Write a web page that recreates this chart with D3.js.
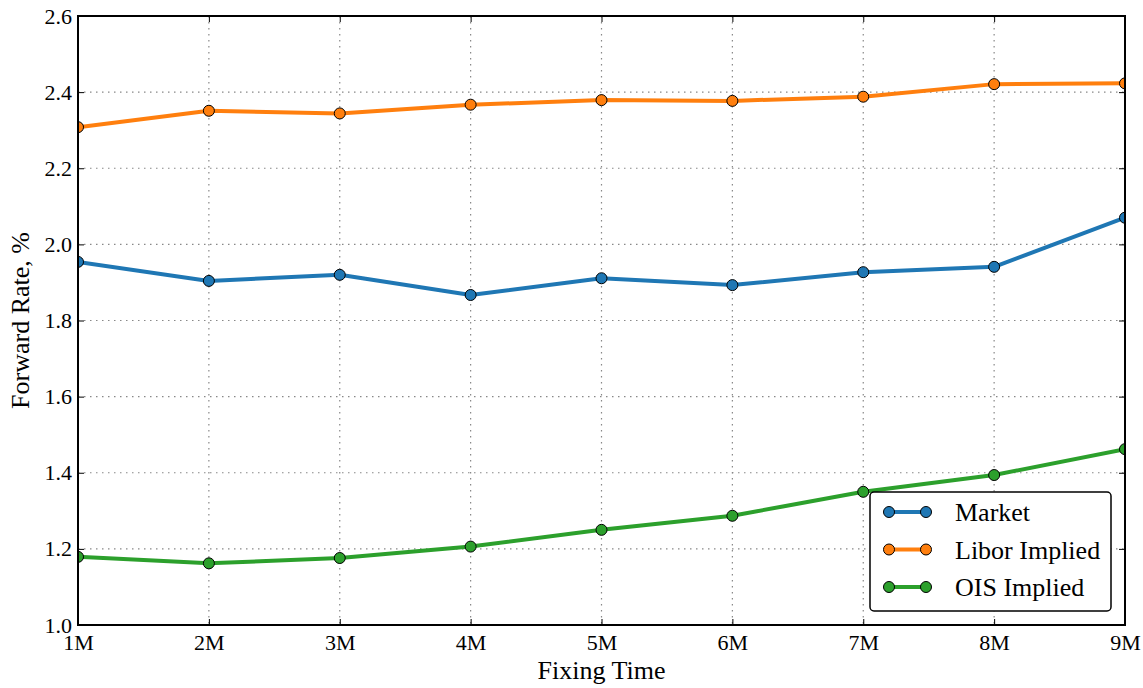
<!DOCTYPE html>
<html>
<head>
<meta charset="utf-8">
<script src="https://cdn.jsdelivr.net/npm/d3@7"></script>
<style>
body { margin: 0; background: #fff; }
svg { font-family: "Liberation Serif", "DejaVu Serif", serif; }
</style>
</head>
<body>
<div id="chart"></div>
<script>
const FRAME_WIDTH = 1143;
const FRAME_HEIGHT = 688;
const MARGINS = {left: 78, right: 18, top: 16, bottom: 63};

const VIS_WIDTH = FRAME_WIDTH - MARGINS.left - MARGINS.right;
const VIS_HEIGHT = FRAME_HEIGHT - MARGINS.top - MARGINS.bottom;

//data
const CATEGORIES = ["1M", "2M", "3M", "4M", "5M", "6M", "7M", "8M", "9M"];
const MARKET = [1.954, 1.904, 1.920, 1.867, 1.911, 1.893, 1.927, 1.941, 2.070];
const LIBOR = [2.308, 2.351, 2.344, 2.367, 2.379, 2.377, 2.388, 2.421, 2.423];
const OIS = [1.179, 1.162, 1.176, 1.206, 1.250, 1.287, 1.350, 1.394, 1.462];
const Y_TICKS = [1.0, 1.2, 1.4, 1.6, 1.8, 2.0, 2.2, 2.4, 2.6];

const SERIES = [
  {name: "Market", values: MARKET, color: "#1f77b4"},
  {name: "Libor Implied", values: LIBOR, color: "#ff7f0e"},
  {name: "OIS Implied", values: OIS, color: "#2ca02c"}
];

const FRAME = d3.select("#chart")
  .append("svg")
    .attr("width", FRAME_WIDTH)
    .attr("height", FRAME_HEIGHT);

const X_SCALE = d3.scalePoint()
  .domain(CATEGORIES)
  .range([0, VIS_WIDTH]);

const Y_SCALE = d3.scaleLinear()
  .domain([1.0, 2.6])
  .range([VIS_HEIGHT, 0]);

const G = FRAME.append("g")
  .attr("transform", "translate(" + MARGINS.left + "," + MARGINS.top + ")");

//clip so the end markers are cut at the frame
G.append("clipPath").attr("id", "clip")
  .append("rect").attr("width", VIS_WIDTH).attr("height", VIS_HEIGHT);

//dotted grid
G.append("g").selectAll("line")
  .data(CATEGORIES.slice(1, -1))
  .enter().append("line")
    .attr("x1", d => X_SCALE(d)).attr("x2", d => X_SCALE(d))
    .attr("y1", 0).attr("y2", VIS_HEIGHT)
    .attr("stroke", "#888").attr("stroke-width", 1.2)
    .attr("stroke-dasharray", "1.5,4.5");

G.append("g").selectAll("line")
  .data(Y_TICKS.slice(1, -1))
  .enter().append("line")
    .attr("x1", 0).attr("x2", VIS_WIDTH)
    .attr("y1", d => Y_SCALE(d)).attr("y2", d => Y_SCALE(d))
    .attr("stroke", "#888").attr("stroke-width", 1.2)
    .attr("stroke-dasharray", "1.5,4.5");

//lines and markers
const PLOT = G.append("g").attr("clip-path", "url(#clip)");
const LINE = d3.line()
  .x((d, i) => X_SCALE(CATEGORIES[i]))
  .y(d => Y_SCALE(d));

SERIES.forEach(s => {
  PLOT.append("path")
    .attr("d", LINE(s.values))
    .attr("fill", "none")
    .attr("stroke", s.color)
    .attr("stroke-width", 4)
    .attr("stroke-linejoin", "round");
  PLOT.selectAll(null)
    .data(s.values)
    .enter().append("circle")
      .attr("cx", (d, i) => X_SCALE(CATEGORIES[i]))
      .attr("cy", d => Y_SCALE(d))
      .attr("r", 5.5)
      .attr("fill", s.color)
      .attr("stroke", "#000")
      .attr("stroke-width", 1);
});

//axes, ticks inside on all four sides
const xBottom = G.append("g")
  .attr("transform", "translate(0," + VIS_HEIGHT + ")")
  .call(d3.axisBottom(X_SCALE).tickSizeInner(-6).tickSizeOuter(0).tickPadding(9));
const xTop = G.append("g")
  .call(d3.axisTop(X_SCALE).tickSizeInner(-6).tickSizeOuter(0).tickFormat(""));
const yLeft = G.append("g")
  .call(d3.axisLeft(Y_SCALE).tickValues(Y_TICKS).tickFormat(d3.format(".1f"))
    .tickSizeInner(-6).tickSizeOuter(0).tickPadding(6));
const yRight = G.append("g")
  .attr("transform", "translate(" + VIS_WIDTH + ",0)")
  .call(d3.axisRight(Y_SCALE).tickValues(Y_TICKS).tickSizeInner(-6).tickSizeOuter(0).tickFormat(""));

[xBottom, xTop, yLeft, yRight].forEach(a => {
  a.select(".domain").remove();
  a.selectAll(".tick line").attr("stroke", "#000").attr("stroke-width", 1);
  a.selectAll("text")
    .attr("font-family", "Liberation Serif, serif")
    .attr("font-size", "22px")
    .attr("fill", "#000");
});

//frame
G.append("rect")
  .attr("width", VIS_WIDTH).attr("height", VIS_HEIGHT)
  .attr("fill", "none").attr("stroke", "#000").attr("stroke-width", 2);

//axis labels
FRAME.append("text")
  .attr("x", MARGINS.left + VIS_WIDTH / 2)
  .attr("y", 679)
  .attr("text-anchor", "middle")
  .attr("font-size", "26px")
  .text("Fixing Time");

FRAME.append("text")
  .attr("transform", "translate(29," + (MARGINS.top + VIS_HEIGHT / 2) + ") rotate(-90)")
  .attr("text-anchor", "middle")
  .attr("font-size", "26px")
  .text("Forward Rate, %");

//legend
const LEGEND = G.append("g")
  .attr("transform", "translate(" + (870 - MARGINS.left) + "," + (492 - MARGINS.top) + ")");

LEGEND.append("rect")
  .attr("width", 241).attr("height", 119)
  .attr("rx", 4).attr("ry", 4)
  .attr("fill", "#fff").attr("stroke", "#000").attr("stroke-width", 1.5);

SERIES.forEach((s, i) => {
  const y = 20 + i * 37.5;
  LEGEND.append("line")
    .attr("x1", 19).attr("x2", 56).attr("y1", y).attr("y2", y)
    .attr("stroke", s.color).attr("stroke-width", 4);
  [19, 56].forEach(x => {
    LEGEND.append("circle")
      .attr("cx", x).attr("cy", y).attr("r", 5.5)
      .attr("fill", s.color).attr("stroke", "#000").attr("stroke-width", 1);
  });
  LEGEND.append("text")
    .attr("x", 85).attr("y", y)
    .attr("dy", "0.35em")
    .attr("font-size", "26px")
    .text(s.name);
});
</script>
</body>
</html>
